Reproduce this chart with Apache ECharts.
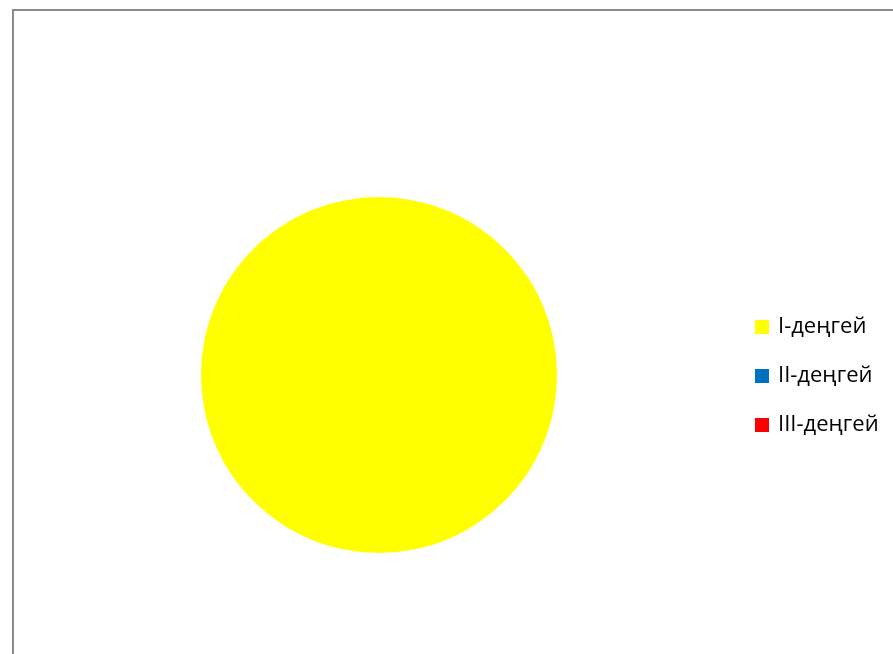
<!DOCTYPE html>
<html><head><meta charset="utf-8">
<script src="https://cdn.jsdelivr.net/npm/echarts@6/dist/echarts.min.js"></script>
<style>
html,body{margin:0;padding:0;background:#fff;overflow:hidden;}
#frame{position:absolute;left:12px;top:9px;width:1000px;height:1000px;border-left:2px solid #8c8c8c;border-top:2px solid #8c8c8c;}
#c{position:absolute;left:0;top:0;width:893px;height:654px;}
</style></head>
<body>
<div id="frame"></div>
<div id="c"></div>
<script>
const categories = ['I-деңгей', 'II-деңгей', 'III-деңгей'];
const values = [100, 0, 0];
const colors = ['#FFFF00', '#0070C0', '#FF0000'];

const chart = echarts.init(document.getElementById('c'), null, {renderer: 'canvas'});
chart.setOption({
  animation: false,
  backgroundColor: 'transparent',
  color: colors,
  legend: {
    orient: 'vertical',
    left: 750,
    top: 311,
    itemWidth: 14,
    itemHeight: 14,
    itemGap: 27,
    itemStyle: {borderWidth: 0},
    icon: 'rect',
    textStyle: {fontFamily: 'Open Sans', fontSize: 22, color: '#000', lineHeight: 22, padding: [0, 0, 0, 4]},
    data: categories
  },
  series: [{
    type: 'pie',
    center: [379, 375],
    radius: 178,
    startAngle: 90,
    label: {show: false},
    labelLine: {show: false},
    emphasis: {disabled: true},
    itemStyle: {borderWidth: 0},
    data: categories.map((n, i) => ({name: n, value: values[i]}))
  }]
});
</script>
</body></html>
